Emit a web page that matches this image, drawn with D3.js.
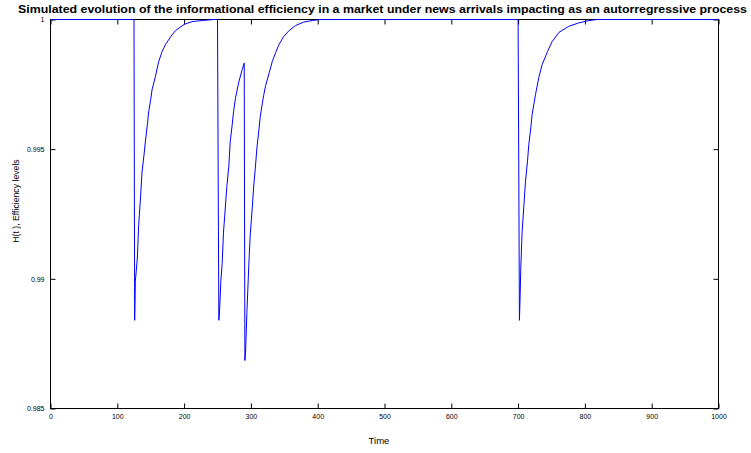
<!DOCTYPE html>
<html>
<head>
<meta charset="utf-8">
<script src="https://cdn.jsdelivr.net/npm/d3@7"></script>
<style>
  html, body { margin: 0; padding: 0; background: #fff; }
  svg { display: block; font-family: "Liberation Sans", Arial, sans-serif; }
</style>
</head>
<body>
<svg id="chart" width="751" height="453"></svg>
<script>
// Simulated efficiency path H(t): time steps and efficiency levels
const timeSteps = [
  0, 125, 126, 127, 130, 132, 135, 137, 140, 142, 145, 147, 150, 152, 157, 162, 167, 172, 180, 187, 200, 212, 227, 244,
  250, 251, 252, 253, 255, 257, 259, 262, 264, 267, 269, 272, 274, 277, 282, 287, 290,
  291, 292, 294, 297, 299, 302, 304, 307, 309, 312, 314, 317, 319, 322, 327, 332, 337, 342, 349, 357, 367, 379, 392, 404,
  700, 701, 702, 703, 704, 706, 709, 711, 714, 716, 719, 721, 726, 731, 736, 744, 751, 761, 776, 791, 806, 818,
  1000
];
const efficiency = [
  1, 1, 0.9884, 0.9899, 0.9908, 0.99207, 0.99323, 0.99412, 0.99478, 0.99528, 0.99594, 0.99644, 0.99691, 0.99729, 0.9978, 0.99838, 0.99876, 0.99903, 0.99934, 0.99957, 0.99981, 0.99992, 0.99996, 1,
  1, 0.9942, 0.9884, 0.98872, 0.9899, 0.9906, 0.9918, 0.99285, 0.99356, 0.99435, 0.99528, 0.99594, 0.99644, 0.99698, 0.9976, 0.99807, 0.99832,
  0.98685, 0.98715, 0.9887, 0.99061, 0.99169, 0.99273, 0.9935, 0.99439, 0.99505, 0.99575, 0.99625, 0.99675, 0.99706, 0.99745, 0.99791, 0.99838, 0.99872, 0.99903, 0.99934, 0.99957, 0.99977, 0.9999, 0.99996, 1,
  1, 0.9942, 0.9884, 0.98929, 0.99041, 0.9918, 0.99296, 0.99374, 0.99451, 0.99517, 0.99582, 0.99633, 0.9971, 0.99776, 0.99826, 0.99876, 0.99915, 0.9995, 0.99974, 0.99987, 0.99996, 1,
  1
];

// Axis ticks
const xTicks = [0, 100, 200, 300, 400, 500, 600, 700, 800, 900, 1000];
const yTicks = [0.985, 0.99, 0.995, 1];
const yTickLabels = ["0.985", "0.99", "0.995", "1"];

const titleText = "Simulated evolution of the informational efficiency in a market under news arrivals impacting as an autorregressive process";
const xLabel = "Time";
const yLabel = "H(t ), Efficiency levels";

const svg = d3.select("#chart");
// Frame edges sit on half pixels so 1px strokes stay crisp
const plot = { left: 50.5, right: 718.5, top: 19.5, bottom: 408.5 };

const x = d3.scaleLinear().domain([0, 1000]).range([plot.left, plot.right]);
const y = d3.scaleLinear().domain([0.985, 1]).range([plot.bottom, plot.top]);

const tickLen = 5;

// Bottom axis with labels, ticks pointing inward
const gx = svg.append("g")
  .attr("transform", `translate(0,${plot.bottom})`)
  .call(d3.axisBottom(x).tickValues(xTicks).tickSizeInner(-tickLen).tickSizeOuter(0).tickPadding(6)
    .tickFormat(d3.format("d")));
// Left axis with labels
const gy = svg.append("g")
  .attr("transform", `translate(${plot.left},0)`)
  .call(d3.axisLeft(y).tickValues(yTicks).tickSizeInner(-tickLen).tickSizeOuter(0).tickPadding(6)
    .tickFormat((d, i) => yTickLabels[i]));
// Top and right axes: ticks only
const gt = svg.append("g")
  .attr("transform", `translate(0,${plot.top})`)
  .call(d3.axisTop(x).tickValues(xTicks).tickSizeInner(-tickLen).tickSizeOuter(0).tickFormat(""));
const gr = svg.append("g")
  .attr("transform", `translate(${plot.right},0)`)
  .call(d3.axisRight(y).tickValues(yTicks).tickSizeInner(-tickLen).tickSizeOuter(0).tickFormat(""));

[gx, gy, gt, gr].forEach(g => {
  g.select(".domain").remove();
  g.selectAll(".tick line").attr("stroke", "#000").attr("stroke-width", 1);
  g.selectAll(".tick text").attr("font-size", 7).attr("fill", "#000")
    .attr("font-family", "\"Liberation Sans\", Arial, sans-serif");
});
gy.selectAll(".tick text").attr("dy", "0.32em");

// Plot frame
svg.append("rect")
  .attr("x", plot.left).attr("y", plot.top)
  .attr("width", plot.right - plot.left).attr("height", plot.bottom - plot.top)
  .attr("fill", "none").attr("stroke", "#000").attr("stroke-width", 1);

// Efficiency series, drawn over the frame
const series = timeSteps.map((t, i) => [t, efficiency[i]]);
const line = d3.line().x(d => x(d[0])).y(d => y(d[1]));
svg.append("path")
  .datum(series)
  .attr("d", line)
  .attr("fill", "none")
  .attr("stroke", "#0000ff")
  .attr("stroke-width", 1);

// Title
svg.append("text")
  .attr("x", 382.5).attr("y", 12.5)
  .attr("text-anchor", "middle")
  .attr("font-size", 11.5).attr("font-weight", "bold")
  .attr("textLength", 729).attr("lengthAdjust", "spacingAndGlyphs")
  .text(titleText);

// Axis labels
svg.append("text")
  .attr("x", 379).attr("y", 444)
  .attr("text-anchor", "middle")
  .attr("font-size", 9.5)
  .text(xLabel);

svg.append("text")
  .attr("transform", "translate(19,201) rotate(-90)")
  .attr("text-anchor", "middle")
  .attr("font-size", 8.7)
  .text(yLabel);
</script>
</body>
</html>
